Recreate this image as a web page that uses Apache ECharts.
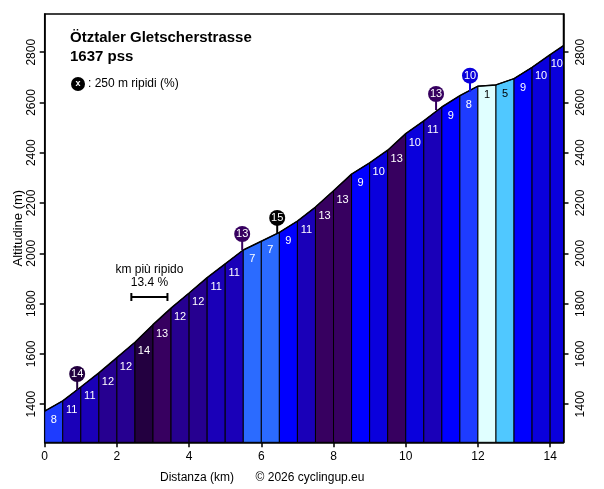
<!DOCTYPE html>
<html>
<head>
<meta charset="utf-8">
<script src="https://cdn.jsdelivr.net/npm/echarts@6/dist/echarts.min.js"></script>
<style>
  html, body { margin: 0; padding: 0; background: #fff; }
  #chart { width: 604px; height: 489px; }
</style>
</head>
<body>
<div id="chart"></div>
<script>
// profilo: distanza (km) e altitudine (m) ogni 500 m
const km = [0, 0.5, 1, 1.5, 2, 2.5, 3, 3.5, 4, 4.5, 5, 5.5, 6, 6.5, 7, 7.5, 8, 8.5, 9, 9.5, 10, 10.5, 11, 11.5, 12, 12.5, 13, 13.5, 14, 14.37];
const elevation = [1372, 1413, 1468, 1524, 1585, 1646, 1716, 1782, 1842, 1903, 1958, 2013, 2048, 2083, 2128, 2184, 2249, 2315, 2360, 2410, 2476, 2527, 2582, 2627, 2665, 2670, 2695, 2740, 2790, 2826];
// pendenza media (%) di ogni tratto
const gradient = [8, 11, 11, 12, 12, 14, 13, 12, 12, 11, 11, 7, 7, 9, 11, 13, 13, 9, 10, 13, 10, 11, 9, 8, 1, 5, 9, 10, 10];

// 250 m più ripidi
const steepKm = [0.9, 5.47, 6.44, 10.84, 11.78];
const steepElev = [1456, 2013, 2077, 2570, 2643];
const steepGrade = [14, 13, 15, 13, 10];

// km più ripido
const steepestFrom = 2.4, steepestTo = 3.4, steepestLevel = 1826, steepestGrade = 13.4;

const yMin = 1248, yMax = 2952;
const FONT = 'Liberation Sans, Arial, sans-serif';

// colori per pendenza
const gradeColors = {
    1: '#e0ffff', 5: '#50c8ff', 7: '#2b6bff', 8: '#1e3cff', 9: '#0000ff',
    10: '#0a00dc', 11: '#1a00b8', 12: '#260090', 13: '#370060', 14: '#230040', 15: '#000000'
};

var chart = echarts.init(document.getElementById('chart'));

const segData = gradient.map((g, i) => [km[i], km[i + 1], elevation[i], elevation[i + 1], g]);

const option = {
    animation: false,
    backgroundColor: '#fff',
    grid: {
        left: 44.7, right: 40.5, top: 14, bottom: 46.7,
        outerBoundsMode: 'none', containLabel: false,
        show: true, borderColor: '#000', borderWidth: 1.5
    },
    xAxis: {
        type: 'value', min: 0, max: 14.37, interval: 2,
        axisLine: { lineStyle: { color: '#000', width: 1.5 } },
        axisTick: { show: true, length: 5, lineStyle: { color: '#000', width: 1.5 } },
        axisLabel: { color: '#000', fontSize: 12, fontFamily: FONT, margin: 8, showMaxLabel: false },
        splitLine: { show: false }
    },
    yAxis: [0, 1].map(i => ({
        type: 'value', min: yMin, max: yMax, splitNumber: 8,
        position: i === 0 ? 'left' : 'right',
        name: i === 0 ? 'Altitudine (m)' : '',
        nameLocation: 'middle', nameGap: 20, nameMoveOverlap: false,
        nameTextStyle: { color: '#000', fontSize: 13, fontFamily: FONT },
        axisLine: { show: true, lineStyle: { color: '#000', width: 1.5 } },
        axisTick: { show: true, length: 5, lineStyle: { color: '#000', width: 1.5 } },
        axisLabel: {
            color: '#000', fontSize: 12, fontFamily: FONT, rotate: 90,
            margin: i === 0 ? 7 : 11, showMinLabel: false, showMaxLabel: false,
            formatter: v => String(v)
        },
        splitLine: { show: false }
    })),
    series: [
        {
            type: 'custom',
            data: segData,
            encode: { x: [0, 1], y: [2, 3] },
            z: 2,
            renderItem: function (params, api) {
                const x0 = api.value(0), x1 = api.value(1);
                const e0 = api.value(2), e1 = api.value(3), g = api.value(4);
                const a = api.coord([x0, yMin]), b = api.coord([x0, e0]);
                const c = api.coord([x1, e1]), d = api.coord([x1, yMin]);
                return {
                    type: 'group',
                    children: [
                        {
                            type: 'polygon',
                            shape: { points: [a, b, c, d] },
                            style: { fill: gradeColors[g] || '#1a00b8', stroke: '#000', lineWidth: 1 }
                        },
                        {
                            type: 'text',
                            style: {
                                x: (b[0] + c[0]) / 2, y: b[1] + 9,
                                text: String(g),
                                fill: g <= 5 ? '#000' : '#fff',
                                font: '11px ' + FONT,
                                align: 'center', verticalAlign: 'middle'
                            }
                        }
                    ]
                };
            }
        },
        {
            type: 'line',
            data: km.map((k, i) => [k, elevation[i]]),
            symbol: 'none',
            lineStyle: { color: '#000', width: 1.5 },
            z: 3
        },
        {
            type: 'custom',
            data: steepKm.map((k, i) => [k, steepElev[i], steepGrade[i]]),
            clip: false,
            z: 4,
            renderItem: function (params, api) {
                const p = api.coord([api.value(0), api.value(1)]);
                const g = api.value(2);
                const col = gradeColors[g];
                return {
                    type: 'group',
                    children: [
                        { type: 'line', shape: { x1: p[0], y1: p[1], x2: p[0], y2: p[1] - 12 },
                          style: { stroke: col, lineWidth: 2 } },
                        { type: 'circle', shape: { cx: p[0], cy: p[1] - 16, r: 8 },
                          style: { fill: col } },
                        { type: 'text', style: { x: p[0], y: p[1] - 16, text: String(g), fill: '#fff',
                          font: '11px ' + FONT, align: 'center', verticalAlign: 'middle' } }
                    ]
                };
            }
        },
        {
            type: 'custom',
            data: [[steepestFrom, steepestTo, steepestLevel, steepestGrade]],
            clip: false,
            z: 4,
            renderItem: function (params, api) {
                const p0 = api.coord([api.value(0), api.value(2)]);
                const p1 = api.coord([api.value(1), api.value(2)]);
                const mx = (p0[0] + p1[0]) / 2;
                const st = { stroke: '#000', lineWidth: 2 };
                return {
                    type: 'group',
                    children: [
                        { type: 'line', shape: { x1: p0[0], y1: p0[1], x2: p1[0], y2: p1[1] }, style: st },
                        { type: 'line', shape: { x1: p0[0], y1: p0[1] - 4, x2: p0[0], y2: p0[1] + 4 }, style: st },
                        { type: 'line', shape: { x1: p1[0], y1: p1[1] - 4, x2: p1[0], y2: p1[1] + 4 }, style: st },
                        { type: 'text', style: { x: mx, y: p0[1] - 27, text: 'km più ripido', fill: '#000',
                          font: '12px ' + FONT, align: 'center', verticalAlign: 'middle' } },
                        { type: 'text', style: { x: mx, y: p0[1] - 14, text: api.value(3).toFixed(1) + ' %', fill: '#000',
                          font: '12px ' + FONT, align: 'center', verticalAlign: 'middle' } }
                    ]
                };
            }
        }
    ],
    graphic: [
        { type: 'text', left: 70, top: 30, style: { text: 'Ötztaler Gletscherstrasse', fill: '#000', font: 'bold 15px ' + FONT } },
        { type: 'text', left: 70, top: 49, style: { text: '1637 pss', fill: '#000', font: 'bold 15px ' + FONT } },
        { type: 'circle', shape: { cx: 78, cy: 84, r: 7 }, style: { fill: '#000' } },
        { type: 'text', x: 78, y: 84, style: { text: 'x', fill: '#fff', font: 'bold 9px ' + FONT, align: 'center', verticalAlign: 'middle' } },
        { type: 'text', x: 88, y: 84, style: { text: ': 250 m ripidi (%)', fill: '#000', font: '12px ' + FONT, verticalAlign: 'middle' } },
        { type: 'text', x: 197, y: 478, style: { text: 'Distanza (km)', fill: '#000', font: '12px ' + FONT, align: 'center', verticalAlign: 'middle' } },
        { type: 'text', x: 310, y: 478, style: { text: '© 2026 cyclingup.eu', fill: '#000', font: '12px ' + FONT, align: 'center', verticalAlign: 'middle' } }
    ]
};

chart.setOption(option);
window.addEventListener('resize', () => chart.resize());
</script>
</body>
</html>
